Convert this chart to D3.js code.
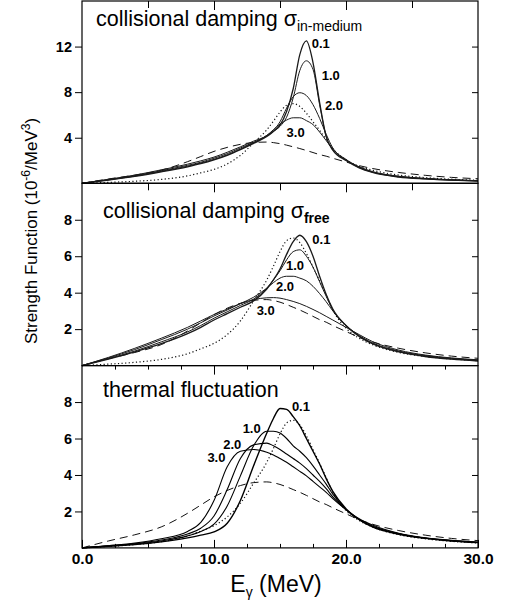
<!DOCTYPE html>
<html lang="en">
<head>
<meta charset="UTF-8">
<title>Strength function</title>
<script src="https://d3js.org/d3.v7.min.js"></script>
<style>
  body { margin: 0; background: #fff; }
  svg text { font-family: "Liberation Sans", Arial, sans-serif; fill: #000; }
</style>
</head>
<body>
<svg id="chart" width="509" height="616"></svg>
<script>
// photon energy grid (MeV), shared by every curve
const energy = [0, 2, 4, 6, 8, 9, 10, 11, 12, 13, 14, 14.5, 15, 15.5, 16, 16.5, 17, 17.5, 18, 18.5, 19, 20, 21, 22, 24, 26, 28, 30];
const temps = ["0.1", "1.0", "2.0", "3.0"];

// collisional damping, sigma in-medium
const inMedium01 = [0, 0.28, 0.6, 1.0, 1.45, 1.72, 2.05, 2.45, 2.95, 3.5, 4.1, 4.55, 5.1, 6.3, 8.3, 11.3, 12.5, 10.6, 7.1, 4.1, 2.9, 2.0, 1.35, 0.95, 0.55, 0.38, 0.27, 0.2];
const inMedium10 = [0, 0.3, 0.63, 1.05, 1.5, 1.78, 2.1, 2.5, 3.0, 3.55, 4.15, 4.55, 5.0, 5.8, 7.5, 9.9, 10.75, 10.0, 6.9, 4.1, 2.95, 2.05, 1.38, 0.98, 0.57, 0.39, 0.28, 0.21];
const inMedium20 = [0, 0.32, 0.67, 1.1, 1.58, 1.85, 2.2, 2.6, 3.1, 3.6, 4.2, 4.65, 5.4, 6.6, 7.6, 7.95, 7.7, 6.9, 5.7, 4.3, 3.1, 2.1, 1.42, 1.0, 0.6, 0.41, 0.3, 0.22];
const inMedium30 = [0, 0.35, 0.72, 1.18, 1.68, 1.97, 2.3, 2.72, 3.2, 3.7, 4.2, 4.7, 5.2, 5.55, 5.75, 5.75, 5.5, 5.15, 4.5, 3.75, 3.0, 2.05, 1.45, 1.03, 0.62, 0.43, 0.31, 0.23];

// collisional damping, sigma free
const free01 = [0, 0.35, 0.75, 1.2, 1.75, 2.1, 2.5, 2.85, 3.2, 3.55, 4.2, 4.7, 5.3, 6.1, 6.8, 7.15, 6.8, 6.0, 4.9, 3.9, 3.1, 2.2, 1.6, 1.2, 0.75, 0.5, 0.35, 0.25];
const free10 = [0, 0.38, 0.8, 1.3, 1.85, 2.2, 2.6, 2.95, 3.3, 3.65, 4.25, 4.7, 5.2, 5.8, 6.25, 6.35, 6.0, 5.4, 4.6, 3.8, 3.05, 2.2, 1.62, 1.22, 0.77, 0.52, 0.37, 0.27];
const free20 = [0, 0.42, 0.88, 1.42, 2.0, 2.35, 2.72, 3.05, 3.4, 3.75, 4.25, 4.55, 4.8, 4.9, 4.9, 4.8, 4.65, 4.35, 3.95, 3.5, 3.0, 2.2, 1.65, 1.25, 0.8, 0.55, 0.4, 0.3];
const free30 = [0, 0.45, 0.95, 1.5, 2.1, 2.45, 2.8, 3.1, 3.4, 3.62, 3.72, 3.73, 3.7, 3.62, 3.52, 3.4, 3.25, 3.08, 2.9, 2.7, 2.5, 2.1, 1.7, 1.32, 0.85, 0.58, 0.42, 0.32];

// thermal fluctuation
const thermal01 = [0, 0.09, 0.18, 0.33, 0.55, 0.7, 0.88, 1.35, 2.6, 4.5, 6.3, 7.1, 7.65, 7.6, 7.2, 6.7, 6.0, 5.3, 4.6, 3.8, 3.1, 2.15, 1.55, 1.15, 0.75, 0.52, 0.38, 0.29];
const thermal10 = [0, 0.1, 0.21, 0.38, 0.66, 0.9, 1.3, 2.3, 3.95, 5.6, 6.4, 6.4, 6.3, 6.0, 5.6, 5.3, 4.95, 4.5, 4.0, 3.5, 2.95, 2.1, 1.55, 1.18, 0.77, 0.53, 0.39, 0.3];
const thermal20 = [0, 0.11, 0.23, 0.43, 0.76, 1.08, 1.75, 3.2, 4.9, 5.65, 5.75, 5.6, 5.4, 5.15, 4.9, 4.65, 4.35, 4.0, 3.65, 3.25, 2.8, 2.1, 1.55, 1.2, 0.78, 0.54, 0.4, 0.3];
const thermal30 = [0, 0.12, 0.26, 0.5, 0.9, 1.4, 2.6, 4.45, 5.3, 5.4, 5.25, 5.1, 4.9, 4.7, 4.45, 4.2, 3.95, 3.65, 3.35, 3.05, 2.7, 2.1, 1.6, 1.25, 0.8, 0.55, 0.42, 0.32];

// reference curves drawn in every panel
const dottedCurve = [0, 0.08, 0.18, 0.34, 0.65, 0.92, 1.22, 1.7, 2.45, 3.55, 4.7, 5.45, 6.25, 6.85, 7.0, 6.75, 6.15, 5.4, 4.65, 3.85, 3.05, 2.05, 1.5, 1.15, 0.72, 0.5, 0.36, 0.27];
const dashedCurve = [0, 0.38, 0.72, 1.15, 1.9, 2.35, 2.8, 3.15, 3.42, 3.58, 3.62, 3.57, 3.48, 3.35, 3.2, 3.05, 2.88, 2.7, 2.52, 2.38, 2.2, 1.87, 1.55, 1.3, 0.95, 0.7, 0.52, 0.4];

const xTickLabels = [0, 10, 20, 30];

const width = 509, height = 616;
const plotLeft = 82, plotRight = 478;
const panelH = 182.3;

const panels = [
  { top: 1, title: "collisional damping ", sub: "in-medium", subWeight: "normal", titleX: 96, titleDy: 25,
    yMax: 16, yTicks: [4, 8, 12], series: [inMedium01, inMedium10, inMedium20, inMedium30],
    labelAt: [[17.4, 11.86], [18.16, 9.06], [18.4, 6.4], [15.5, 4.06]], lineColor: "#1a1a1a", lineWidth: 1 },
  { top: 183.3, title: "collisional damping ", sub: "free", subWeight: "bold", titleX: 103, titleDy: 35,
    yMax: 10, yTicks: [2, 4, 6, 8], series: [free01, free10, free20, free30],
    labelAt: [[17.45, 6.67], [15.45, 5.27], [14.7, 4.08], [13.23, 2.8]], lineColor: "#1a1a1a", lineWidth: 1 },
  { top: 365.6, title: "thermal fluctuation", sub: null, titleX: 103, titleDy: 31,
    yMax: 10, yTicks: [2, 4, 6, 8], series: [thermal01, thermal10, thermal20, thermal30],
    labelAt: [[15.9, 7.5], [12.17, 6.32], [10.7, 5.45], [9.5, 4.72]], lineColor: "#000", lineWidth: 1.1 }
];

const svg = d3.select("#chart")
  .attr("width", width)
  .attr("height", height);

const x = d3.scaleLinear().domain([0, 30]).range([plotLeft, plotRight]);

panels.forEach((p, pi) => {
  const bottom = p.top + panelH;
  const y = d3.scaleLinear().domain([0, p.yMax]).range([bottom, p.top]);
  const g = svg.append("g");

  const line = d3.line()
    .x((d, i) => x(energy[i]))
    .y(d => y(d))
    .curve(d3.curveMonotoneX);

  g.append("path")
    .attr("d", line(dashedCurve))
    .attr("fill", "none")
    .attr("stroke", "#111")
    .attr("stroke-width", 1)
    .attr("stroke-dasharray", "8,5");

  g.append("path")
    .attr("d", line(dottedCurve))
    .attr("fill", "none")
    .attr("stroke", "#111")
    .attr("stroke-width", 1.2)
    .attr("stroke-dasharray", "1.2,2.4");

  p.series.forEach((s, si) => {
    g.append("path")
      .attr("d", line(s))
      .attr("fill", "none")
      .attr("stroke", p.lineColor)
      .attr("stroke-width", si === 0 ? p.lineWidth + 0.3 : p.lineWidth);
  });

  // temperature labels
  g.selectAll(".tlabel")
    .data(temps)
    .enter().append("text")
    .attr("class", "tlabel")
    .attr("x", (d, i) => x(p.labelAt[i][0]))
    .attr("y", (d, i) => y(p.labelAt[i][1]))
    .attr("font-size", 13)
    .attr("font-weight", "bold")
    .text(d => d);

  // panel title
  const title = g.append("text")
    .attr("x", p.titleX)
    .attr("y", p.top + p.titleDy)
    .attr("font-size", 21.5)
    .text(p.title);
  if (p.sub) {
    title.append("tspan").text("\u03c3");
    title.append("tspan")
      .attr("dy", 5)
      .attr("font-size", 14)
      .attr("font-weight", p.subWeight)
      .text(p.sub);
  }

  // frame
  g.append("rect")
    .attr("x", plotLeft)
    .attr("y", p.top)
    .attr("width", plotRight - plotLeft)
    .attr("height", panelH)
    .attr("fill", "none")
    .attr("stroke", "#000")
    .attr("stroke-width", 1.2);

  // y axes
  const yl = g.append("g")
    .attr("transform", `translate(${plotLeft},0)`)
    .call(d3.axisLeft(y).tickValues(p.yTicks).tickSize(7).tickPadding(3));
  yl.select(".domain").remove();
  yl.selectAll("text")
    .attr("font-family", "DejaVu Sans")
    .attr("font-weight", "bold")
    .attr("font-size", 14.5);

  const yr = g.append("g")
    .attr("transform", `translate(${plotRight},0)`)
    .call(d3.axisRight(y).tickValues(p.yTicks).tickSize(-6).tickFormat(""));
  yr.select(".domain").remove();

  // x ticks along the top of each panel, pointing inward
  const minorTop = g.append("g")
    .attr("transform", `translate(0,${p.top})`)
    .call(d3.axisTop(x).tickValues(pi === 2 ? d3.range(2.5, 30, 2.5) : d3.range(5, 30, 5)).tickSize(pi === 2 ? -4 : -7).tickFormat(""));
  minorTop.select(".domain").remove();
  const majorTop = g.append("g")
    .attr("transform", `translate(0,${p.top})`)
    .call(d3.axisTop(x).tickValues([10, 20]).tickSize(-9).tickFormat(""));
  majorTop.select(".domain").remove();

  if (pi === panels.length - 1) {
    const minorBot = g.append("g")
      .attr("transform", `translate(0,${bottom})`)
      .call(d3.axisBottom(x).tickValues(d3.range(2.5, 30, 2.5)).tickSize(-4).tickFormat(""));
    minorBot.select(".domain").remove();
    const majorBot = g.append("g")
      .attr("transform", `translate(0,${bottom})`)
      .call(d3.axisBottom(x).tickValues(xTickLabels).tickSize(-8).tickPadding(5).tickFormat(d3.format(".1f")));
    majorBot.select(".domain").remove();
    majorBot.selectAll("text")
      .attr("font-family", "DejaVu Sans")
      .attr("font-weight", "bold")
      .attr("font-size", 15.5);
  }
});

// axis titles
const yTitle = svg.append("text")
  .attr("transform", "translate(37,231) rotate(-90)")
  .attr("text-anchor", "middle")
  .attr("font-size", 17);
yTitle.append("tspan").text("Strength Function (10");
yTitle.append("tspan").attr("dy", -7).attr("font-size", 12).text("-6");
yTitle.append("tspan").attr("dy", 7).text("/MeV");
yTitle.append("tspan").attr("dy", -7).attr("font-size", 12).text("3");
yTitle.append("tspan").attr("dy", 7).text(")");

const xTitle = svg.append("text")
  .attr("x", 276)
  .attr("y", 592)
  .attr("text-anchor", "middle")
  .attr("font-size", 23);
xTitle.append("tspan").text("E");
xTitle.append("tspan").attr("dy", 5).attr("font-size", 14).text("\u03b3");
xTitle.append("tspan").attr("dy", -5).text(" (MeV)");
</script>
</body>
</html>
